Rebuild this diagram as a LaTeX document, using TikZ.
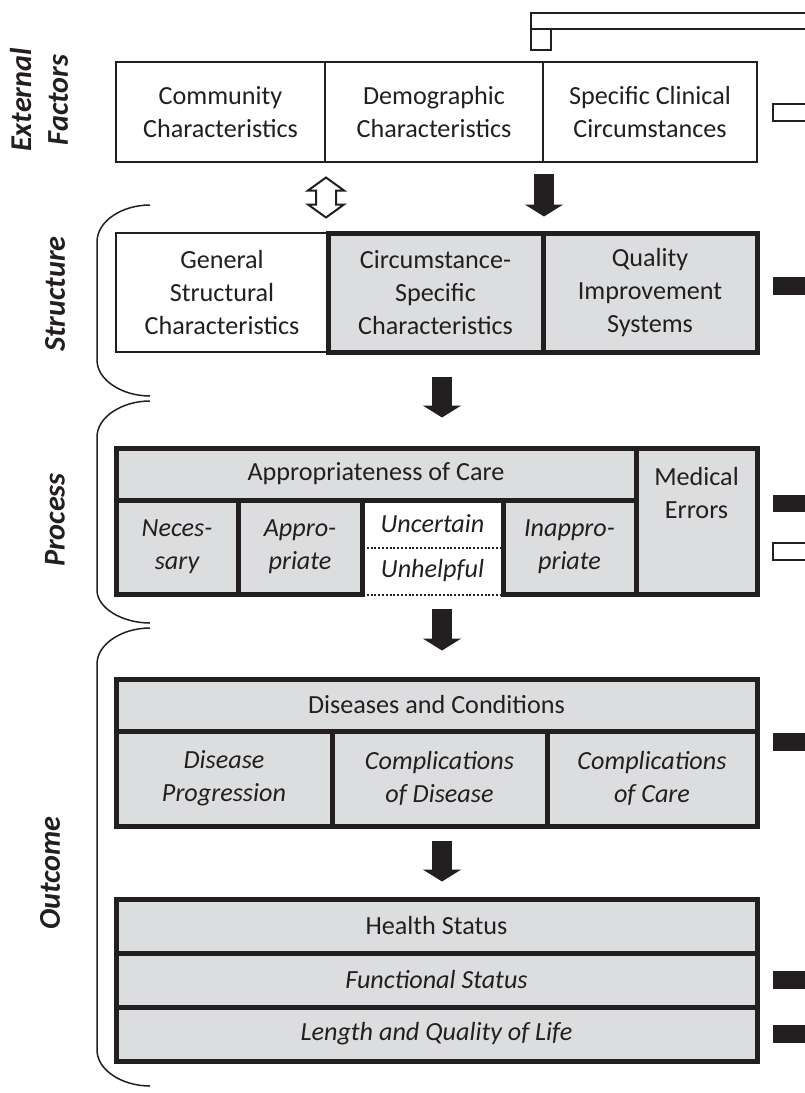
\documentclass[tikz,border=0pt]{standalone}
\usepackage{fontspec}
\setmainfont{Carlito}
\usepackage{tikz}
\usetikzlibrary{calc,positioning,arrows.meta}

\definecolor{ink}{HTML}{231F20}
\definecolor{boxgray}{HTML}{DCDDDE}
\newlength{\pxu}\setlength{\pxu}{0.025cm}
\newcommand{\cellfont}{\fontsize{18.6}{23.5}\selectfont}
\newcommand{\sectfont}{\fontsize{21.5}{26}\selectfont\bfseries\itshape}

\tikzset{
	wh/.style 2 args={minimum width=#1\pxu, minimum height=#2\pxu},
	plain/.style={draw=ink, line width=2\pxu, fill=white, align=center, inner sep=0pt, font=\cellfont},
	shaded/.style={draw=ink, line width=5\pxu, fill=boxgray, align=center, inner sep=0pt, font=\cellfont},
	ital/.style={font=\cellfont\itshape},
	dots/.style={draw=ink, line width=2\pxu, dash pattern=on 2\pxu off 1.8\pxu, align=center, inner sep=0pt, font=\cellfont\itshape},
	sect/.style={rotate=90, align=center, font=\sectfont},
	flow/.style={draw=ink, line width=0.5cm, -{Triangle[length=0.3cm,width=0.95cm]}},
	brace/.style={draw=ink, line width=1.5\pxu},
	twoway/.pic={\draw[ink, line width=2\pxu, fill=white] (0,-20) -- (18,-7) -- (10,-7) -- (10,7) -- (18,7) -- (0,20) -- (-18,7) -- (-10,7) -- (-10,-7) -- (-18,-7) -- cycle;}
}

\begin{document}
\begin{tikzpicture}[x=0.025cm, y=-0.025cm, color=ink]
			\useasboundingbox (0,0) rectangle (804,1093);

			% cut-off legend at the top and right
			\draw[line width=2\pxu] (531,13) rectangle (830,29);
			\draw[line width=2\pxu] (531,29) rectangle (551,50);
			\draw[line width=2\pxu] (773,104) rectangle (830,121);
			\fill (773,277) rectangle (830,295);
			\fill (773,495) rectangle (830,512);
			\draw[line width=2\pxu] (773,543) rectangle (830,560);
			\fill (773,733) rectangle (830,751);
			\fill (773,971) rectangle (830,989);
			\fill (773,1025) rectangle (830,1043);

			% external factors
			\node[plain, wh={209}{100}] (comm) at(220.5, 112){Community\\Characteristics};
			\node[plain, wh={218}{100}] (demo) at(434, 112){Demographic\\Characteristics};
			\node[plain, wh={214}{100}] (spec) at(650, 112){Specific Clinical\\Circumstances};

			% structure
			\node[plain, wh={212}{119}] (gen) at(222, 292.5){General\\Structural\\Characteristics};
			\node[shaded, wh={215}{119}] (circ) at(435.5, 292.5){Circumstance-\\Specific\\Characteristics};
			\node[shaded, wh={214}{119}] (qual) at(650, 292.5){Quality\\Improvement\\Systems};

			% process
			\node[shaded, wh={520}{52}] (apph) at(376, 474){Appropriateness of Care};
			\node[shaded, wh={121}{146}] (errs) at(696.5, 521){};
				\node[font=\cellfont, align=center] (errtxt) at(696.5, 493){Medical\\Errors};
			\node[shaded, ital, wh={122}{94}] (nec) at(177, 547){Neces-\\sary};
			\node[shaded, ital, wh={124}{94}] (appr) at(300, 547){Appro-\\priate};
			\node[shaded, ital, wh={133}{94}] (inap) at(569.5, 547){Inappro-\\priate};
				\node[font=\cellfont\itshape] (unc) at(432.5, 524){Uncertain};
				\node[dots, wh={139}{47}] (unh) at(432.5, 571){Unhelpful};

			% outcome
			\node[shaded, wh={641}{52}] (dish) at(436.5, 705){Diseases and Conditions};
			\node[shaded, ital, wh={216}{95}] (prog) at(224, 778.5){Disease\\Progression};
			\node[shaded, ital, wh={215}{95}] (cdis) at(439.5, 778.5){Complications\\of Disease};
			\node[shaded, ital, wh={210}{95}] (ccare) at(652, 778.5){Complications\\of Care};

			\node[shaded, wh={641}{54}] (hs) at(436.5, 926){Health Status};
			\node[shaded, ital, wh={641}{54}] (fs) at(436.5, 980){Functional Status};
			\node[shaded, ital, wh={641}{54}] (lq) at(436.5, 1034){Length and Quality of Life};

			% arrows
			\coordinate (spine) at(442, 0);
			\coordinate (dbl) at($(comm.south east)!.5!(comm.south east |- gen.north)$);
			\pic at(dbl) {twoway};
			\draw[flow, shorten <=11\pxu, shorten >=14\pxu] (demo.south east) -- (demo.south east |- qual.north);
			\draw[flow, shorten <=22\pxu, shorten >=28\pxu] (spine |- circ.south) -- (spine |- apph.north);
			\draw[flow, shorten <=12\pxu, shorten >=26\pxu] (spine |- appr.south) -- (spine |- dish.north);
			\draw[flow, shorten <=12\pxu, shorten >=15\pxu] (spine |- cdis.south) -- (spine |- hs.north);

			% brackets on the left
			\draw[brace] (150,205) .. controls (122,205) and (97,221) .. (97,242) -- (97,360) .. controls (97,380) and (122,396) .. (150,396);
			\draw[brace] (150,401) .. controls (122,401) and (97,417) .. (97,437) -- (97,590) .. controls (97,608) and (122,623) .. (150,623);
			\draw[brace] (150,628) .. controls (122,628) and (97,644) .. (97,664) -- (97,1050) .. controls (97,1070) and (122,1086) .. (150,1086);

			\node[sect] (lext) at(39, 100){External\\Factors};
			\node[sect] (lstr) at(55, 294){Structure};
			\node[sect] (lpro) at(55, 520){Process};
			\node[sect] (lout) at(50, 873){Outcome};
\end{tikzpicture}
\end{document}
